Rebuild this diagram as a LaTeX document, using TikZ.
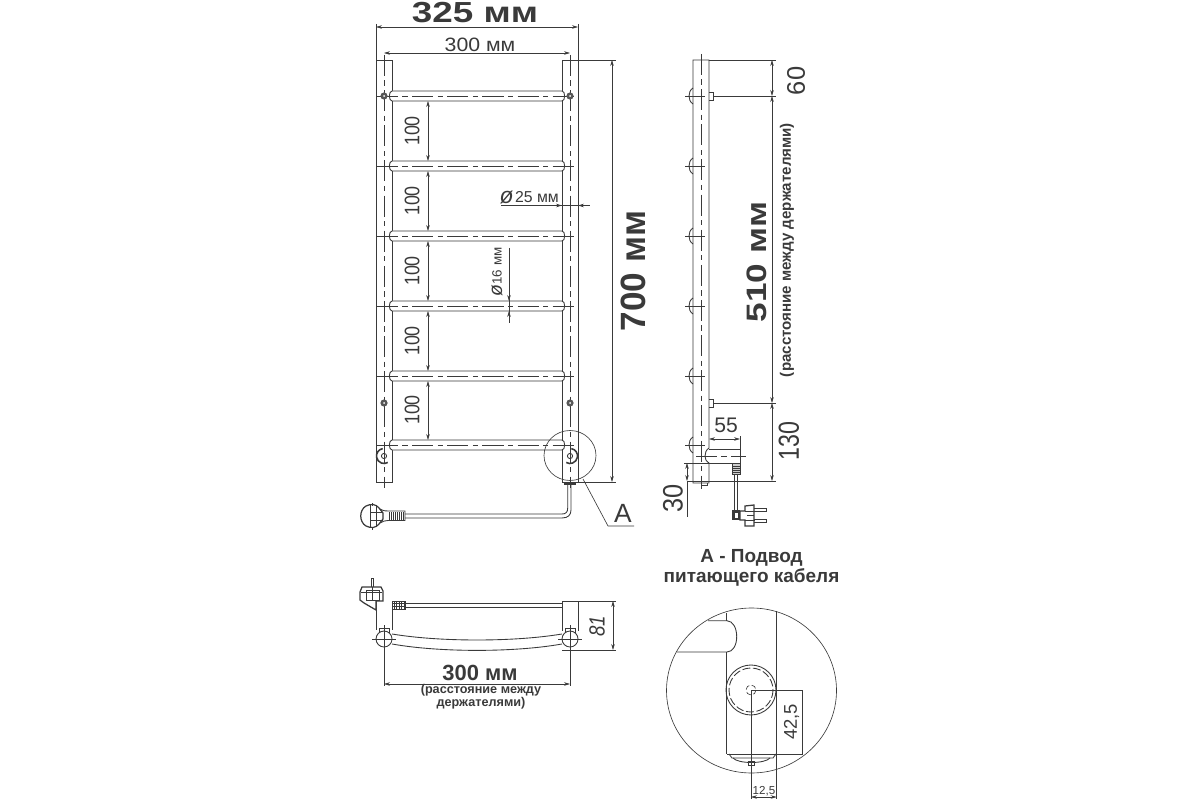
\documentclass[tikz,border=0pt]{standalone}
\usepackage{fontspec}
\usepackage{graphicx}
\setmainfont{Liberation Sans}
\usetikzlibrary{arrows.meta}
\definecolor{ink}{HTML}{3A3A3A}
\newcommand{\fsz}[1]{\fontsize{#1}{#1}\selectfont}
\tikzset{
  outline/.style={draw=ink,line width=0.5pt},
  thin line/.style={draw=ink,line width=0.36pt},
  axis/.style={draw=ink,line width=0.36pt,dash pattern=on 12pt off 2.5pt on 3pt off 2.5pt},
  dim/.style={thin line,{Stealth[length=3.4pt,width=2pt]}-{Stealth[length=3.4pt,width=2pt]}},
  endarrow/.style={thin line,-{Stealth[length=3.4pt,width=2pt]}},
  label/.style={text=ink,inner sep=0pt,align=center},
}
\begin{document}
\begin{tikzpicture}[x=0.02cm,y=-0.02cm]
\useasboundingbox (0,0) rectangle (1200,800);
% ===== front view =====
\draw[outline] (376,482) -- (376,60) -- (392,60) -- (392,482) -- cycle;
\draw[outline] (562,482) -- (562,60) -- (578,60) -- (578,482);
\draw[outline] (562,482) -- (578,482);
\draw[axis] (384,55) -- (384,488);
\draw[axis] (570,55) -- (570,488);
\foreach \r in {96,166,236,306,376,445}{
  \draw[outline,fill=white] (392,\r-5) -- (562,\r-5) .. controls (565.5,\r-5) and (565.5,\r+5) .. (562,\r+5) -- (392,\r+5) .. controls (388.5,\r+5) and (388.5,\r-5) .. (392,\r-5) -- cycle;
  \draw[axis] (377,\r) -- (578,\r);
}
% wall holders
\foreach \hx/\hy in {384/96,570/96,384/403,570/403}{
  \fill[ink!85] (\hx,\hy) circle[radius=3.6];
  \fill[white] (\hx,\hy) circle[radius=1];
}
% lower holders
\draw[outline] (384,456) circle[radius=2.6];
\draw[outline] (570,456) circle[radius=2.6];
\draw[draw=ink,line width=0.9pt] (384,456) ++(-100:7.5) arc[start angle=-100,end angle=-300,radius=7.5];
\draw[draw=ink,line width=0.9pt] (570,456) ++(-80:7.5) arc[start angle=-80,end angle=120,radius=7.5];
% cable and plug front
\fill[ink] (564,482) rectangle (576,485);
\draw[outline] (567.7,485) -- (567.7,508) .. controls (567.7,512) and (566,514) .. (562,514) -- (405,514);
\draw[outline] (571,485) -- (571,510) .. controls (571,515) and (568,518) .. (562,518) -- (405,518);
\draw[outline] (380,509) .. controls (384,511) and (385,511) .. (388,511) -- (405,511) -- (405,520.5) -- (388,520.5) .. controls (385,520.5) and (384,521) .. (380,523);
\foreach \h in {389,391,...,404}{\draw[thin line] (\h,512) -- (\h,520);}
\draw[outline,line width=0.7pt] (366,506) .. controls (371,503.5) and (376,504) .. (379,508) -- (383,513) -- (383,519) -- (379,524) .. controls (376,528) and (371,528.5) .. (366,526) .. controls (359,522) and (359,510) .. (366,506) -- cycle;
\draw[outline] (370,505) -- (370,527) (376,506) -- (376,526) (370,512) -- (383,512) (370,520) -- (383,520);
\draw[thin line] (372,503) -- (372,506) (372,527) -- (372,530);
% detail circle and leader
\draw[thin line] (570,455.5) circle[x radius=26,y radius=25];
\coordinate (leadstart) at (583,479);
\coordinate (leadknee) at (608,526);
\coordinate (leadend) at (634,526);
\draw[thin line] (leadstart) -- (leadknee) -- (leadend);
\node[label] (letterA) at (623,513) {\fsz{15}А};
% dimensions front
\draw[thin line] (376,24) -- (376,60) (578,24) -- (578,60);
\draw[dim] (376,27) -- (578,27);
\node[label] (w325) at (475,13) {\fsz{16.5}\bfseries\scalebox{1.27}[1]{325 мм}};
\draw[dim] (384,53) -- (570,53);
\node[label] (w300) at (480,45) {\fsz{11}\scalebox{1.1}[1]{300 мм}};
\draw[thin line] (578,60) -- (616,60) (578,482) -- (616,482);
\draw[dim] (612,60) -- (612,482);
\node[label,rotate=90] (h700) at (633,271) {\fsz{20}\bfseries 700 мм};
\foreach \a/\b/\t in {101/161/131,171/231/201,241/301/271,311/371/341,381/440/410}{
  \draw[dim] (428,\a) -- (428,\b);
  \node[label,rotate=90] at (412,\t) {\fsz{12}\scalebox{.85}[1]{100}};
}
% diameter 25
\coordinate (d25l) at (501,205.5);
\coordinate (d25r) at (590,205.5);
\draw[thin line] (d25l) -- (d25r);
\draw[endarrow] (552,205.5) -- (562,205.5);
\draw[endarrow] (588,205.5) -- (578,205.5);
\node[label] (phi25) at (506.5,197) {\fsz{13}\itshape ø};
\node[label] (t25) at (537,197) {\fsz{9}25 мм};
% diameter 16
\coordinate (d16t) at (509,248);
\coordinate (d16b) at (509,323);
\draw[thin line] (d16t) -- (d16b);
\draw[endarrow] (509,291) -- (509,301);
\draw[endarrow] (509,321) -- (509,311);
\node[label,rotate=90] (phi16) at (497,290.5) {\fsz{11}\itshape ø};
\node[label,rotate=90] (t16) at (497,266) {\fsz{7.6}16 мм};
% ===== side view =====
\draw[outline] (693,483) -- (693,60) -- (709,60) -- (709,448) .. controls (706,450) and (705,453) .. (705,456) .. controls (705,459) and (706,461) .. (709,463) -- (709,483) -- cycle;
\draw[axis] (701,54) -- (701,489);
\foreach \s in {96,166,236,306,376,445}{
  \draw[outline] (693,\s-8) .. controls (690,\s-6) and (689,\s-3) .. (689,\s) .. controls (689,\s+3) and (690,\s+6) .. (693,\s+8);
  \draw[thin line] (685,\s) -- (705,\s);
}
\draw[outline] (709,92) -- (713.5,92) -- (713.5,100) -- (709,100);
\draw[outline] (709,399) -- (713.5,399) -- (713.5,407) -- (709,407);
\draw[thin line] (713.5,96) -- (776,96) (713.5,403) -- (776,403);
\draw[thin line] (709,60) -- (776,60) (687,481) -- (776,481);
\draw[dim] (772,60) -- (772,96);
\draw[dim] (772,96) -- (772,403);
\draw[dim] (772,403) -- (772,481);
\node[label,rotate=90] (t60) at (796,81) {\fsz{14.5}60};
\node[label,rotate=90] (t130) at (789,441) {\fsz{16.5}\scalebox{.8}[1]{130}};
\node[label,rotate=90] (t510) at (757,262) {\fsz{16}\bfseries\scalebox{1.25}[1]{510 мм}};
\node[label,rotate=90] (tdist) at (787,250) {\fsz{8.6}\bfseries (расстояние между держателями)};
% arm
\draw[outline] (709,449) -- (740,449) -- (740,463) -- (684,463);
\draw[axis] (696,456) -- (746,456);
\draw[thin line] (740,436) -- (740,449);
\draw[dim] (709,439) -- (740,439);
\node[label] (t55) at (726,425) {\fsz{12}55};
\draw[dim] (687,463) -- (687,481);
\draw[thin line] (687,481) -- (687,517);
\node[label,rotate=90] (t30) at (673,498) {\fsz{16}\scalebox{.9}[1]{30}};
\draw[outline] (701,483) -- (701,485) -- (707,485) -- (707,483);
% cable and plug side
\draw[outline,fill=ink!25] (732,463) rectangle (740,474);
\foreach \q in {466,468,470,472}{\draw[thin line] (732,\q) -- (740,\q);}
\draw[outline] (734,474) -- (734,510) (737,474) -- (737,510);
\fill[ink] (732,510) rectangle (740,520);
\fill[white] (735,513) rectangle (738,518);
\draw[outline,line width=0.7pt,fill=white] (740,511) -- (745,511) -- (745,506) -- (754,505) -- (754,526) -- (745,526) -- (745,520) -- (740,520) -- cycle;
\draw[outline] (745,511) -- (755,511) (745,520) -- (755,520) (747,515.5) -- (754,515.5);
\draw[outline] (754,508.5) -- (766,508.5) -- (766,511.5) -- (754,511.5);
\draw[outline] (754,519.5) -- (766,519.5) -- (766,522.5) -- (754,522.5);
% ===== top view =====
\draw[outline] (376,601) -- (376,630) (392,601) -- (392,630);
\draw[outline] (562,601) -- (562,631) (578,601) -- (578,631);
\draw[outline] (562,601) -- (578,601);
\draw[outline] (392,634) .. controls (440,642) and (514,642) .. (562,634);
\draw[outline] (392,644) .. controls (440,652.5) and (514,652.5) .. (562,644);
\foreach \tx in {384,570}{
  \draw[outline,fill=white] (\tx-5,633) -- (\tx-5,628) -- (\tx+5,628) -- (\tx+5,633);
  \draw[outline,fill=white] (\tx,639) circle[radius=8];
}
\draw[thin line] (384,625) -- (384,686) (570,625) -- (570,686);
\draw[thin line] (372,639) -- (396,639) (558,639) -- (582,639);
\draw[dim] (384,684) -- (570,684);
\node[label] (b300) at (480,673) {\fsz{12.5}\bfseries 300 мм};
\node[label,font=\fontsize{7.2}{6.4}\selectfont\bfseries] (bdist) at (481,696.5) {(расстояние между\\держателями)};
\draw[outline] (405,603) -- (562,603) (405,607.5) -- (562,607.5);
\draw[outline] (392,601) rectangle (405,609);
\foreach \h in {394,396.5,...,404}{\draw[thin line] (\h,601) -- (\h,609);}
\draw[thin line] (392,603.5) -- (405,603.5) (392,606.5) -- (405,606.5);
\draw[outline,line width=0.7pt,fill=white] (362,587) -- (381,587) -- (383,591) -- (383,601) -- (376,601) -- (376,610) -- (364,603) -- (360,600) -- (360,592) -- cycle;
\draw[outline] (366,590) rectangle (379,600);
\draw[outline] (372,587) -- (372,600) (361,592) -- (382,592);
\draw[outline] (371,587) -- (371,578) -- (373,578) -- (373,587);
\draw[thin line] (578,601) -- (616,601) (562,650) -- (616,650);
\draw[dim] (613,601) -- (613,650);
\node[label,rotate=90] (t81) at (597,626) {\fsz{12.5}\itshape\scalebox{.85}[1]{81}};
% ===== detail =====
\node[label,font=\fontsize{10.8}{9.6}\selectfont\bfseries] (titA) at (751.5,568) {А - Подвод\\питающего кабеля};
\draw[thin line] (751.5,690.5) circle[x radius=85,y radius=82.5];
\draw[outline] (726.7,613) -- (726.7,620.7);
\draw[outline] (708,620.7) -- (727,620.7) .. controls (733,621) and (736.7,628) .. (736.7,636.7) .. controls (736.7,645) and (733,652) .. (727,652) -- (677,652);
\draw[outline] (726.7,652) -- (726.7,754);
\draw[outline] (776.7,611) -- (776.7,799);
\draw[outline] (751,690) circle[radius=25];
\draw[outline,dash pattern=on 4.5pt off 1.5pt] (751,690) circle[radius=22];
\draw[thin line,dash pattern=on 3pt off 1.5pt] (751,690) circle[radius=5];
\draw[thin line] (751,690) -- (802.7,690) -- (802.7,754) -- (727,754);
\draw[thin line] (751,690) -- (751,799);
\draw[outline] (729,754) -- (732,758) -- (773,758) -- (776,754);
\draw[outline] (733,758) .. controls (738,764) and (765,764) .. (770,758);
\draw[outline] (748,761) rectangle (754,765);
\draw[dim] (751,797) -- (776.7,797);
\node[label] (t125) at (764,791) {\fsz{6.6}12,5};
\node[label,rotate=90] (t425) at (791.5,722) {\fsz{10.5}42,5};
\end{tikzpicture}
\end{document}
